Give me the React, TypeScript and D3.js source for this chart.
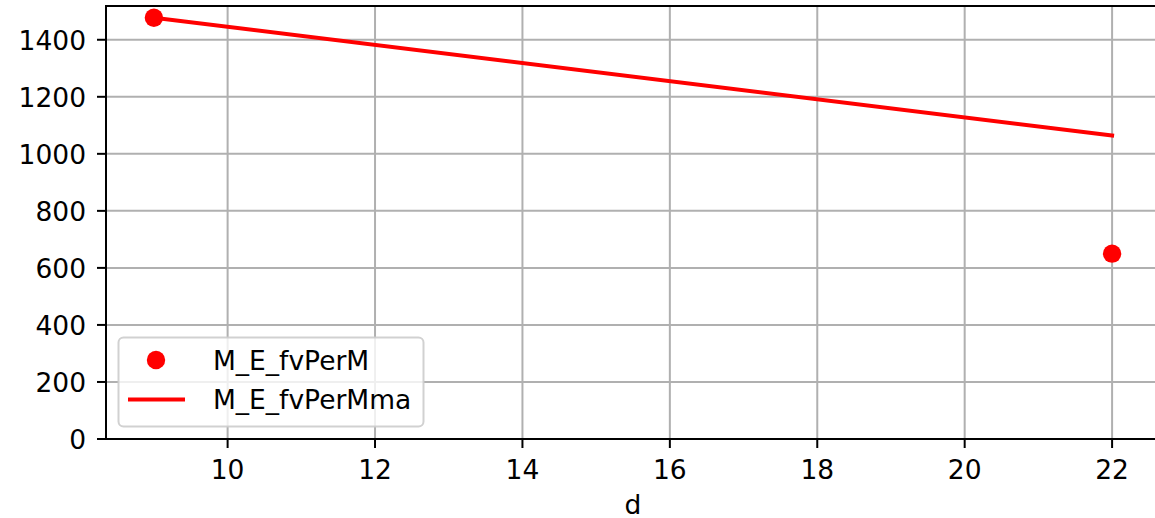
import React from "react";
import * as d3 from "d3";

const pointsX = [9, 22];
const pointsY = [1477, 650];
const lineX = [9, 22];
const lineY = [1477, 1064];
const xTicks = [10, 12, 14, 16, 18, 20, 22];
const yTicks = [0, 200, 400, 600, 800, 1000, 1200, 1400];
const seriesNames = ["M_E_fvPerM", "M_E_fvPerMma"];
const xLabel = "d";

const W = 1155;
const H = 518;
const left = 106;
const right = 1160;
const top = 6;
const bottom = 439;
const FONT = "'DejaVu Sans', sans-serif";
const FS = 26.5;
const R = 9.2;

export default function App() {
  const x = d3.scaleLinear().domain([8.35, 22.65]).range([left, right]);
  const y = d3.scaleLinear().domain([0, 1518.4]).range([bottom, top]);
  const line = d3
    .line<number>()
    .x((_, i) => x(lineX[i]))
    .y((d) => y(d));

  return (
    <svg
      width={W}
      height={H}
      style={{ position: "absolute", left: 0, top: 0, display: "block", background: "#fff" }}
      fontFamily={FONT}
    >
      <defs>
        <clipPath id="clip">
          <rect x={left} y={top} width={right - left} height={bottom - top} />
        </clipPath>
      </defs>
      {/* grid */}
      <g stroke="#b0b0b0" strokeWidth={2}>
        {xTicks.map((t) => (
          <line key={"gx" + t} x1={x(t)} x2={x(t)} y1={top} y2={bottom} />
        ))}
        {yTicks.map((t) => (
          <line key={"gy" + t} x1={left} x2={right} y1={y(t)} y2={y(t)} />
        ))}
      </g>
      {/* data */}
      <g clipPath="url(#clip)">
        <path d={line(lineY) || ""} fill="none" stroke="#ff0000" strokeWidth={4} strokeLinecap="square" />
        {pointsY.map((v, i) => (
          <circle key={"p" + i} cx={x(pointsX[i])} cy={y(v)} r={R} fill="#ff0000" />
        ))}
      </g>
      {/* spines */}
      <g stroke="#000" strokeWidth={2} fill="none">
        <line x1={left} x2={left} y1={top} y2={bottom} strokeLinecap="square" />
        <line x1={left} x2={right} y1={bottom} y2={bottom} strokeLinecap="square" />
        <line x1={left} x2={right} y1={top} y2={top} strokeLinecap="square" />
        <line x1={right} x2={right} y1={top} y2={bottom} />
      </g>
      {/* x ticks */}
      <g>
        {xTicks.map((t) => (
          <g key={"xt" + t}>
            <line x1={x(t)} x2={x(t)} y1={bottom} y2={bottom + 9} stroke="#000" strokeWidth={2} />
            <text x={x(t)} y={479} textAnchor="middle" fontSize={FS} fill="#000">
              {t}
            </text>
          </g>
        ))}
      </g>
      {/* y ticks */}
      <g>
        {yTicks.map((t) => (
          <g key={"yt" + t}>
            <line x1={left - 9} x2={left} y1={y(t)} y2={y(t)} stroke="#000" strokeWidth={2} />
            <text x={86} y={y(t)} dy="0.37em" textAnchor="end" fontSize={FS} fill="#000">
              {t}
            </text>
          </g>
        ))}
      </g>
      <text x={(left + right) / 2} y={514} textAnchor="middle" fontSize={FS} fill="#000">
        {xLabel}
      </text>
      {/* legend */}
      <g>
        <rect x={118.5} y={337.5} width={305} height={89} rx={5} ry={5} fill="#fff" fillOpacity={0.8} stroke="#cccccc" strokeOpacity={0.9} strokeWidth={2} />
        <circle cx={156} cy={360} r={R} fill="#ff0000" />
        <line x1={128} x2={185} y1={399.5} y2={399.5} stroke="#ff0000" strokeWidth={4} />
        <text x={213} y={360} dy="0.37em" fontSize={FS} fill="#000">
          {seriesNames[0]}
        </text>
        <text x={213} y={399.5} dy="0.37em" fontSize={FS} fill="#000">
          {seriesNames[1]}
        </text>
      </g>
    </svg>
  );
}
